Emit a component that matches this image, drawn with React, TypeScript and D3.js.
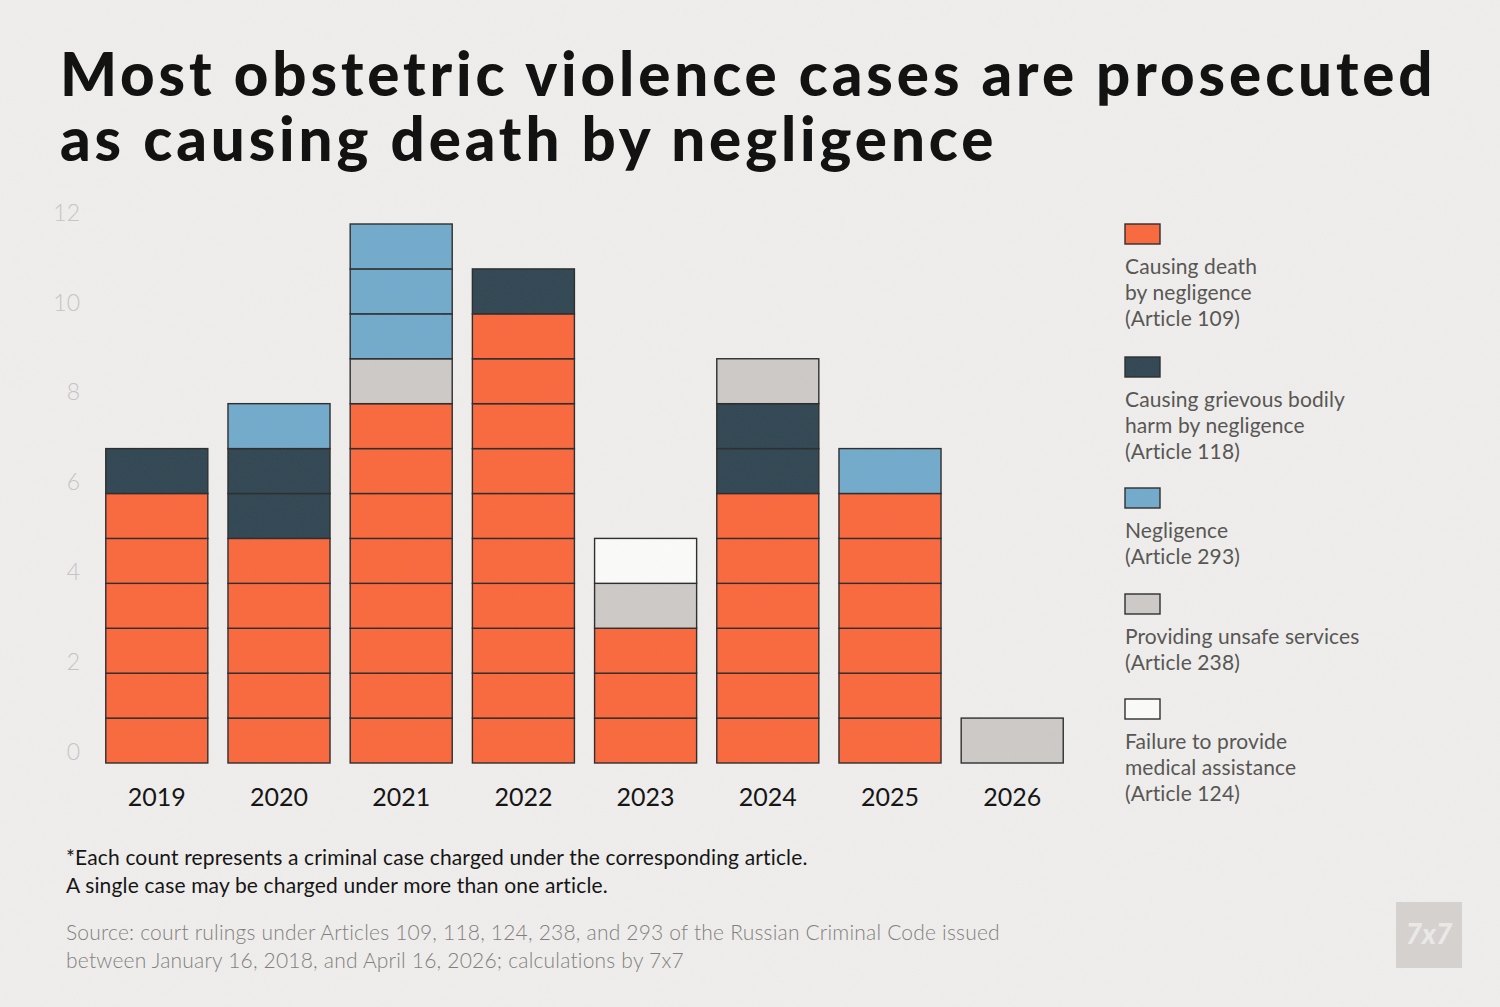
import React, { useEffect, useRef } from 'react';
import * as d3 from 'd3';

const years = ['2019', '2020', '2021', '2022', '2023', '2024', '2025', '2026'];
const article109 = [6, 5, 8, 10, 3, 6, 6, 0];
const article118 = [1, 2, 0, 1, 0, 2, 0, 0];
const article238 = [0, 0, 1, 0, 1, 1, 0, 1];
const article293 = [0, 1, 3, 0, 0, 0, 1, 0];
const article124 = [0, 0, 0, 0, 1, 0, 0, 0];
const yTicks = [0, 2, 4, 6, 8, 10, 12];

const stackOrder = ['a109', 'a118', 'a238', 'a293', 'a124'];
const legendOrder = ['a109', 'a118', 'a293', 'a238', 'a124'];
const legendLabels: Record<string, string[]> = {
  a109: ['Causing death', 'by negligence', '(Article 109)'],
  a118: ['Causing grievous bodily', 'harm by negligence', '(Article 118)'],
  a293: ['Negligence', '(Article 293)'],
  a238: ['Providing unsafe services', '(Article 238)'],
  a124: ['Failure to provide', 'medical assistance', '(Article 124)'],
};
const COLORS: Record<string, string> = {
  a109: '#fa683d',
  a118: '#304652',
  a293: '#72aacb',
  a238: '#cdc9c7',
  a124: '#fbfbfa',
};

const W = 1500;
const H = 1007;
const FONT = 'Lato, "Open Sans", sans-serif';

export default function App() {
  const svgRef = useRef<SVGSVGElement>(null);

  useEffect(() => {
    const svg = d3.select(svgRef.current);
    svg.selectAll('*').remove();

    const rows = years.map((year, i) => ({
      year,
      a109: article109[i],
      a118: article118[i],
      a238: article238[i],
      a293: article293[i],
      a124: article124[i],
    }));

    const x = d3.scaleBand<string>().domain(years).range([96, 1073]).paddingInner(0.165).paddingOuter(0.08);
    const y = d3.scaleLinear().domain([0, 12]).range([763, 224]);

    svg.append('rect').attr('width', W).attr('height', H).attr('fill', '#efeeec');

    // grain
    const defs = svg.append('defs');
    const f = defs.append('filter').attr('id', 'grain').attr('x', 0).attr('y', 0).attr('width', '100%').attr('height', '100%');
    f.append('feTurbulence').attr('type', 'fractalNoise').attr('baseFrequency', 0.9).attr('numOctaves', 2).attr('seed', 3);
    f.append('feColorMatrix').attr('type', 'matrix').attr('values', '0 0 0 0 0.5  0 0 0 0 0.5  0 0 0 0 0.5  0 0 0 0.06 0');

    // title
    const title = svg.append('text').attr('font-family', FONT).attr('font-weight', 900)
      .attr('font-size', 60).attr('letter-spacing', 3.9).attr('fill', '#0d0d0d');
    title.append('tspan').attr('x', 60).attr('y', 96).text('Most obstetric violence cases are prosecuted');
    title.append('tspan').attr('x', 60).attr('y', 161).text('as causing death by negligence');

    // y labels
    svg.append('g').selectAll('text').data(yTicks).join('text')
      .attr('x', 80).attr('y', d => y(d) - 9)
      .attr('text-anchor', 'end').attr('dominant-baseline', 'middle')
      .attr('font-family', FONT).attr('font-weight', 300).attr('font-size', 23).attr('fill', '#c6c4c2')
      .text(d => d);

    // bars (one rect per case)
    const series = d3.stack<any>().keys(stackOrder)(rows);
    const cells: { year: string; key: string; v: number }[] = [];
    series.forEach(s => {
      s.forEach(seg => {
        d3.range(seg[0], seg[1]).forEach(v => cells.push({ year: seg.data.year, key: s.key, v }));
      });
    });
    svg.append('g').selectAll('rect').data(cells).join('rect')
      .attr('x', d => x(d.year)!)
      .attr('width', x.bandwidth())
      .attr('y', d => y(d.v + 1))
      .attr('height', d => y(d.v) - y(d.v + 1))
      .attr('fill', d => COLORS[d.key])
      .attr('stroke', '#2b2b2b').attr('stroke-width', 1.4);

    // x labels
    svg.append('g').selectAll('text').data(years).join('text')
      .attr('x', d => x(d)! + x.bandwidth() / 2).attr('y', 806)
      .attr('text-anchor', 'middle')
      .attr('font-family', FONT).attr('font-size', 25).attr('fill', '#111')
      .text(d => d);

    // legend
    const legendY: Record<string, number> = { a109: 224, a118: 357, a293: 488, a238: 594, a124: 699 };
    const lg = svg.append('g');
    legendOrder.forEach(k => {
      const g = lg.append('g').attr('transform', `translate(1125,${legendY[k]})`);
      g.append('rect').attr('width', 35).attr('height', 20).attr('fill', COLORS[k]).attr('stroke', '#2b2b2b').attr('stroke-width', 1.4);
      legendLabels[k].forEach((line, i) => {
        g.append('text').attr('x', 0).attr('y', 50 + i * 26)
          .attr('font-family', FONT).attr('font-size', 21).attr('letter-spacing', 0.1).attr('fill', '#555452')
          .text(line);
      });
    });

    // notes
    const note = svg.append('text').attr('font-family', FONT).attr('font-size', 21).attr('letter-spacing', 0.15).attr('fill', '#111');
    note.append('tspan').attr('x', 66).attr('y', 865).text('*Each count represents a criminal case charged under the corresponding article.');
    note.append('tspan').attr('x', 66).attr('y', 893).text('A single case may be charged under more than one article.');
    const src = svg.append('text').attr('font-family', FONT).attr('font-weight', 300).attr('font-size', 21).attr('letter-spacing', 0.2).attr('fill', '#7f7e7c');
    src.append('tspan').attr('x', 66).attr('y', 940).text('Source: court rulings under Articles 109, 118, 124, 238, and 293 of the Russian Criminal Code issued');
    src.append('tspan').attr('x', 66).attr('y', 968).text('between January 16, 2018, and April 16, 2026; calculations by 7x7');

    // logo
    svg.append('rect').attr('x', 1396).attr('y', 902).attr('width', 66).attr('height', 66).attr('fill', '#d5d2d0');
    svg.append('text').attr('x', 1429).attr('y', 944).attr('text-anchor', 'middle')
      .attr('font-family', FONT).attr('font-weight', 900).attr('font-style', 'italic').attr('font-size', 28).attr('fill', '#eceae8')
      .text('7x7');

    svg.append('rect').attr('width', W).attr('height', H).attr('filter', 'url(#grain)').attr('pointer-events', 'none');
  }, []);

  return (
    <div style={{ position: 'fixed', left: 0, top: 0 }}>
      <svg ref={svgRef} width={W} height={H} style={{ display: 'block' }} />
    </div>
  );
}
